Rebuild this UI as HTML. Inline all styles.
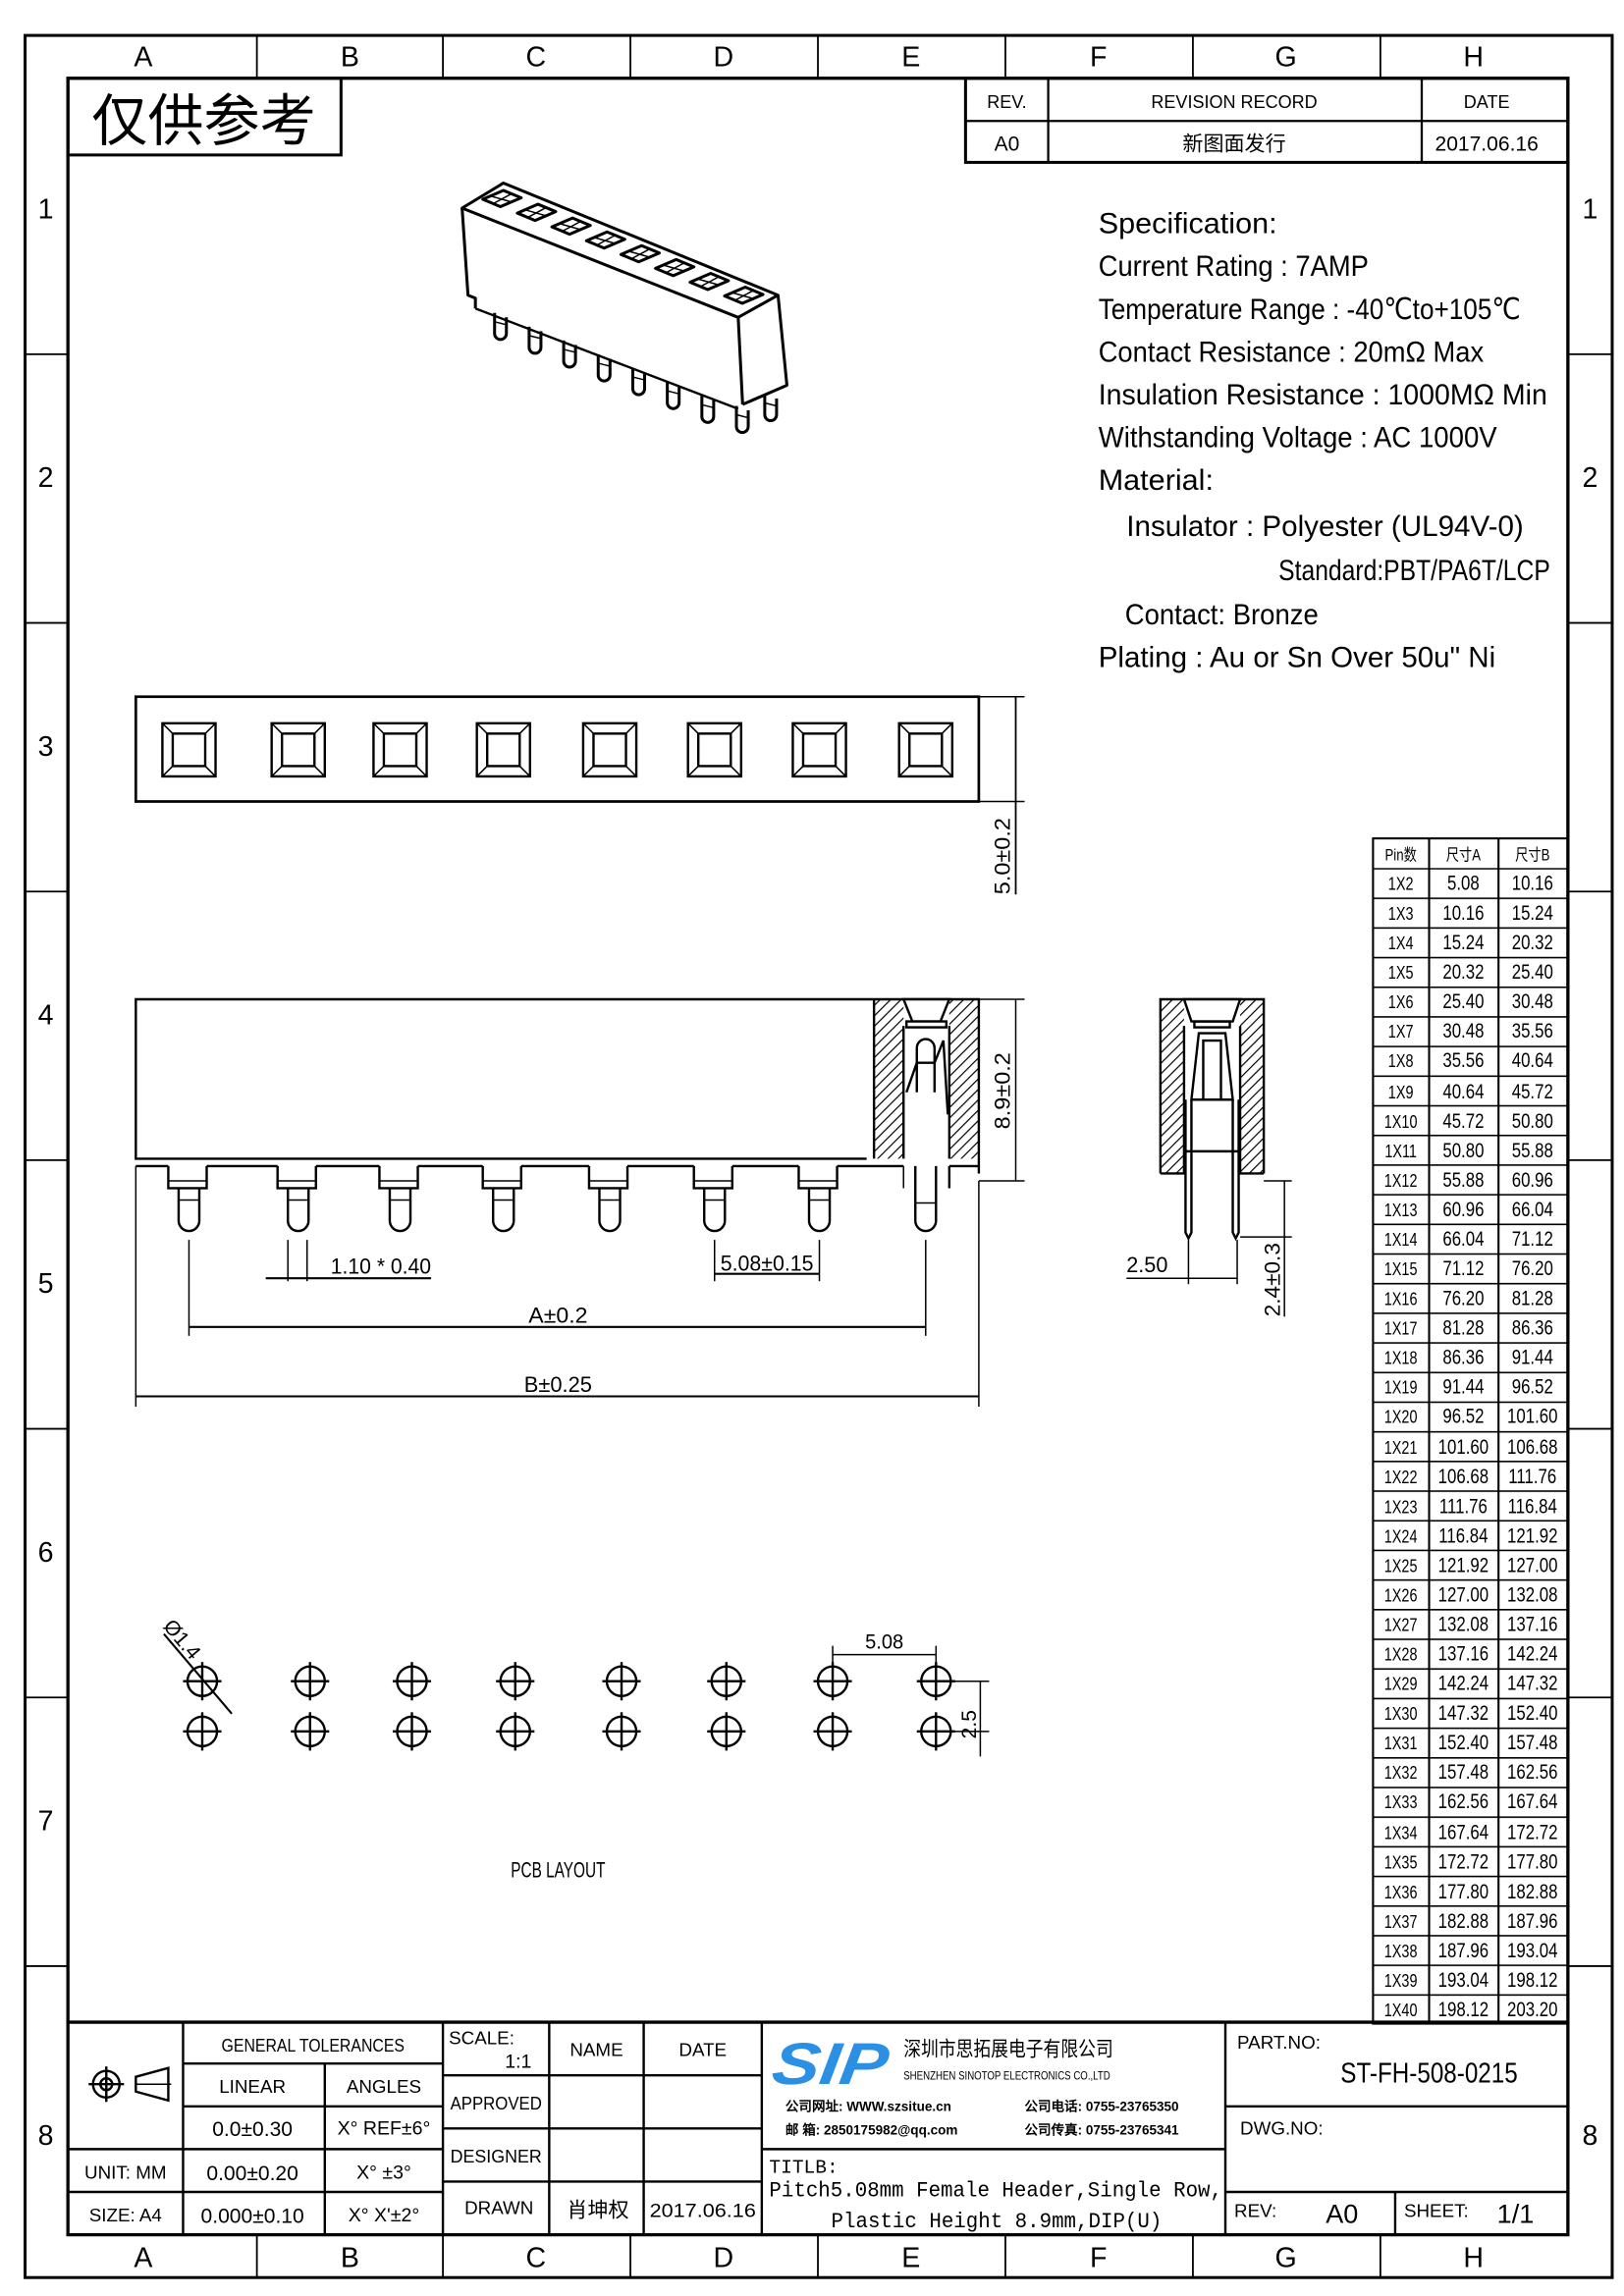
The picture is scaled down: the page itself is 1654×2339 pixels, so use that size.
<!DOCTYPE html>
<html><head><meta charset="utf-8"><style>
html,body{margin:0;padding:0;background:#fff}
svg{display:block}
text{font-family:"Liberation Sans Narrow","Liberation Sans","WenQuanYi Zen Hei",sans-serif;fill:#000}
.cj{font-family:"Liberation Sans","Noto Sans CJK SC","WenQuanYi Zen Hei",sans-serif}
</style></head><body>
<svg width="1654" height="2339" viewBox="0 0 1100 1555.5" preserveAspectRatio="none" xmlns="http://www.w3.org/2000/svg">
<defs>
<pattern id="h" patternUnits="userSpaceOnUse" width="5" height="5" patternTransform="rotate(45)"><line x1="0" y1="0" x2="0" y2="5" stroke="#000" stroke-width="1.6"/></pattern>
<pattern id="rows" patternUnits="userSpaceOnUse" x="930" y="588" width="140" height="20.08"><line x1="0" y1="0.5" x2="140" y2="0.5" stroke="#000" stroke-width="1.2"/></pattern>
</defs>
<g fill="none" stroke="#000">
<rect x="17" y="24" width="1075" height="1519" stroke-width="2"/>
<rect x="46" y="53" width="1016" height="1461" stroke-width="2.2"/>
<g stroke-width="1.2">
<line x1="174" y1="24" x2="174" y2="53"/><line x1="300" y1="24" x2="300" y2="53"/><line x1="427" y1="24" x2="427" y2="53"/><line x1="554" y1="24" x2="554" y2="53"/><line x1="681" y1="24" x2="681" y2="53"/><line x1="808" y1="24" x2="808" y2="53"/><line x1="935" y1="24" x2="935" y2="53"/>
<line x1="174" y1="1514" x2="174" y2="1543"/><line x1="300" y1="1514" x2="300" y2="1543"/><line x1="427" y1="1514" x2="427" y2="1543"/><line x1="554" y1="1514" x2="554" y2="1543"/><line x1="681" y1="1514" x2="681" y2="1543"/><line x1="808" y1="1514" x2="808" y2="1543"/><line x1="935" y1="1514" x2="935" y2="1543"/>
<line x1="17" y1="240" x2="46" y2="240"/><line x1="17" y1="422" x2="46" y2="422"/><line x1="17" y1="604" x2="46" y2="604"/><line x1="17" y1="786" x2="46" y2="786"/><line x1="17" y1="968" x2="46" y2="968"/><line x1="17" y1="1150" x2="46" y2="1150"/><line x1="17" y1="1332" x2="46" y2="1332"/>
<line x1="1062" y1="240" x2="1092" y2="240"/><line x1="1062" y1="422" x2="1092" y2="422"/><line x1="1062" y1="604" x2="1092" y2="604"/><line x1="1062" y1="786" x2="1092" y2="786"/><line x1="1062" y1="968" x2="1092" y2="968"/><line x1="1062" y1="1150" x2="1092" y2="1150"/><line x1="1062" y1="1332" x2="1092" y2="1332"/>
</g>
<rect x="46" y="53" width="185" height="52" stroke-width="2"/>
<rect x="654" y="53" width="408" height="57" stroke-width="2"/>
<line x1="654" y1="82" x2="1062" y2="82" stroke-width="1.5"/>
<line x1="710" y1="53" x2="710" y2="110" stroke-width="1.5"/><line x1="963" y1="53" x2="963" y2="110" stroke-width="1.5"/>
</g>
<g font-size="19" text-anchor="middle">
<text x="97" y="45">A</text><text x="237" y="45">B</text><text x="363" y="45">C</text><text x="490" y="45">D</text><text x="617" y="45">E</text><text x="744" y="45">F</text><text x="871" y="45">G</text><text x="998" y="45">H</text>
<text x="97" y="1536">A</text><text x="237" y="1536">B</text><text x="363" y="1536">C</text><text x="490" y="1536">D</text><text x="617" y="1536">E</text><text x="744" y="1536">F</text><text x="871" y="1536">G</text><text x="998" y="1536">H</text>
<text x="31" y="148">1</text><text x="31" y="330">2</text><text x="31" y="512">3</text><text x="31" y="694">4</text><text x="31" y="876">5</text><text x="31" y="1058">6</text><text x="31" y="1240">7</text><text x="31" y="1453">8</text>
<text x="1077" y="148">1</text><text x="1077" y="330">2</text><text x="1077" y="1453">8</text>
</g>
<text x="138" y="95" font-size="38" text-anchor="middle" class="cj">仅供参考</text>
<g font-size="12" text-anchor="middle">
<text x="682" y="73">REV.</text><text x="836" y="73">REVISION RECORD</text><text x="1007" y="73">DATE</text>
<text x="682" y="102" font-size="14">A0</text><text x="836" y="102" class="cj" font-size="14">新图面发行</text><text x="1007" y="102" font-size="14">2017.06.16</text>
</g>
<g font-size="20">
<text x="744" y="158" textLength="121" lengthAdjust="spacingAndGlyphs">Specification:</text>
<text x="744" y="187" textLength="183" lengthAdjust="spacingAndGlyphs">Current Rating : 7AMP</text>
<text x="744" y="216" textLength="286" lengthAdjust="spacingAndGlyphs">Temperature Range : -40℃to+105℃</text>
<text x="744" y="245" textLength="261" lengthAdjust="spacingAndGlyphs">Contact Resistance : 20mΩ Max</text>
<text x="744" y="274" textLength="304" lengthAdjust="spacingAndGlyphs">Insulation Resistance : 1000MΩ Min</text>
<text x="744" y="303" textLength="270" lengthAdjust="spacingAndGlyphs">Withstanding Voltage : AC 1000V</text>
<text x="744" y="332" textLength="78" lengthAdjust="spacingAndGlyphs">Material:</text>
<text x="763" y="363" textLength="269" lengthAdjust="spacingAndGlyphs">Insulator : Polyester (UL94V-0)</text>
<text x="866" y="393" textLength="184" lengthAdjust="spacingAndGlyphs">Standard:PBT/PA6T/LCP</text>
<text x="762" y="423" textLength="131" lengthAdjust="spacingAndGlyphs">Contact: Bronze</text>
<text x="744" y="452" textLength="269" lengthAdjust="spacingAndGlyphs">Plating : Au or Sn Over 50u" Ni</text>
</g>
<g fill="none" stroke="#000" stroke-width="2" stroke-linejoin="round">
<polygon points="313,141 341,124 527,200 500,215" fill="#fff"/>
<polyline points="313,141 317,200 322,202 322,209"/>
<line x1="500" y1="215" x2="503" y2="274"/>
<polyline points="527,200 533,261 503,274"/>
<polyline points="322,209 500,277" stroke-width="1.6"/>
<g id="slot">
<polygon points="327,135 341,129 353,134 339,140" stroke-width="2"/>
<line x1="333" y1="133" x2="347" y2="137" stroke-width="1"/><line x1="347" y1="131" x2="334" y2="138" stroke-width="1"/>
</g>
<use href="#slot" x="23.4" y="9.36"/><use href="#slot" x="46.8" y="18.7"/><use href="#slot" x="70.2" y="28.1"/><use href="#slot" x="93.6" y="37.4"/><use href="#slot" x="117" y="46.8"/><use href="#slot" x="140.4" y="56.2"/><use href="#slot" x="163.8" y="65.5"/>
<g id="pin" stroke-width="2">
<path d="M335,212 v14 a4,4 0 0 0 8,0 v-11"/><line x1="335" y1="218" x2="343" y2="220" stroke-width="1"/>
</g>
<use href="#pin" x="23.4" y="9.36"/><use href="#pin" x="46.8" y="18.7"/><use href="#pin" x="70.2" y="28.1"/><use href="#pin" x="93.6" y="37.4"/><use href="#pin" x="117" y="46.8"/><use href="#pin" x="140.4" y="56.2"/><use href="#pin" x="163.8" y="63"/><use href="#pin" x="183" y="55"/>
</g>
<g fill="none" stroke="#000">
<rect x="92" y="472" width="571" height="71" stroke-width="1.8"/>
<g id="sq" stroke-width="1.6"><rect x="110" y="490" width="36" height="36"/><rect x="117" y="497" width="22" height="22"/><path d="M110,490 L117,497 M146,490 L139,497 M110,526 L117,519 M146,526 L139,519" stroke-width="1"/></g>
<use href="#sq" x="74"/><use href="#sq" x="143"/><use href="#sq" x="213"/><use href="#sq" x="285"/><use href="#sq" x="356"/><use href="#sq" x="427"/><use href="#sq" x="499"/>
<line x1="663" y1="472" x2="694" y2="472" stroke-width="1"/><line x1="663" y1="543" x2="694" y2="543" stroke-width="1"/>
<line x1="688" y1="472" x2="688" y2="606" stroke-width="1.2"/>
</g>
<text transform="translate(684,606) rotate(-90)" font-size="15" textLength="52" lengthAdjust="spacingAndGlyphs">5.0±0.2</text>
<g fill="none" stroke="#000" stroke-width="1.6">
<polyline points="587,785 92,785 92,677 663,677 663,795"/>
<rect x="592" y="677" width="20" height="108" fill="url(#h)" stroke="none"/>
<rect x="643" y="677" width="20" height="108" fill="url(#h)" stroke="none"/>
<line x1="592" y1="677" x2="592" y2="785"/><line x1="612" y1="695" x2="612" y2="785"/><line x1="643" y1="695" x2="643" y2="785"/>
<polygon points="612,677 643,677 637,692 618,692" fill="#fff"/>
<rect x="614" y="692" width="27" height="4" fill="#fff"/>
<path d="M621,740 v-30 a6,6 0 0 1 12,0 v30"/><path d="M621,720 h12"/>
<path d="M633,720 l6,-15 l3,50 M614,740 l7,-20"/>
<g id="sp">
<polyline points="114,790 114,805 140,805 140,790" fill="#fff"/>
<line x1="114" y1="800" x2="140" y2="800" stroke-width="1"/>
<path d="M121,805 v22 a7,7 0 0 0 14,0 v-22"/><line x1="121" y1="813" x2="135" y2="813" stroke-width="1"/>
</g>
<use href="#sp" x="74"/><use href="#sp" x="143"/><use href="#sp" x="213"/><use href="#sp" x="285"/><use href="#sp" x="356"/><use href="#sp" x="427"/>
<path d="M620,790 v37 a7,7 0 0 0 14,0 v-37"/><line x1="620" y1="815" x2="634" y2="815" stroke-width="1"/>
<line x1="612" y1="790" x2="612" y2="805" stroke-width="1"/><line x1="643" y1="790" x2="643" y2="805"/>
<line x1="92" y1="790" x2="114" y2="790"/><line x1="140" y1="790" x2="188" y2="790"/><line x1="214" y1="790" x2="257" y2="790"/><line x1="283" y1="790" x2="327" y2="790"/><line x1="353" y1="790" x2="399" y2="790"/><line x1="425" y1="790" x2="470" y2="790"/><line x1="496" y1="790" x2="541" y2="790"/><line x1="567" y1="790" x2="612" y2="790"/><line x1="643" y1="790" x2="663" y2="790"/>
</g>
<g fill="none" stroke="#000" stroke-width="1">
<line x1="663" y1="677" x2="694" y2="677"/><line x1="663" y1="800" x2="694" y2="800"/><line x1="688" y1="677" x2="688" y2="800"/>
<line x1="92" y1="790" x2="92" y2="953"/><line x1="663" y1="800" x2="663" y2="953"/>
<line x1="128" y1="840" x2="128" y2="905"/><line x1="627" y1="840" x2="627" y2="905"/>
<line x1="92" y1="946" x2="663" y2="946" stroke-width="1.4"/>
<line x1="128" y1="899" x2="627" y2="899" stroke-width="1.4"/>
<line x1="195" y1="840" x2="195" y2="868"/><line x1="208" y1="840" x2="208" y2="868"/>
<line x1="180" y1="866" x2="292" y2="866" stroke-width="1.4"/>
<line x1="484" y1="840" x2="484" y2="868"/><line x1="555" y1="840" x2="555" y2="868"/>
<line x1="484" y1="863" x2="555" y2="863" stroke-width="1.4"/>
</g>
<g font-size="15">
<text x="224" y="863" textLength="68" lengthAdjust="spacingAndGlyphs">1.10 * 0.40</text>
<text x="488" y="861" textLength="63" lengthAdjust="spacingAndGlyphs">5.08±0.15</text>
<text x="358" y="896" textLength="40" lengthAdjust="spacingAndGlyphs">A±0.2</text>
<text x="355" y="943" textLength="46" lengthAdjust="spacingAndGlyphs">B±0.25</text>
</g>
<text transform="translate(684,765) rotate(-90)" font-size="15" textLength="52" lengthAdjust="spacingAndGlyphs">8.9±0.2</text>
<g fill="none" stroke="#000" stroke-width="1.6">
<rect x="786" y="677" width="16" height="118" fill="url(#h)" stroke="none"/>
<rect x="840" y="677" width="16" height="118" fill="url(#h)" stroke="none"/>
<polyline points="786,795 786,677 856,677 856,795"/>
<polyline points="802,695 802,795 786,795"/><polyline points="840,695 840,795 856,795"/>
<polygon points="802,677 840,677 835,692 807,692" fill="#fff"/>
<rect x="809" y="692" width="24" height="4"/>
<path d="M807,745 l5,-45 h18 l5,45 z"/><path d="M815,745 v-40 h12 v40"/>
<line x1="802" y1="780" x2="840" y2="780"/>
<path d="M803,745 v90 l2,4 l2,-4 v-90 M835,745 v90 l2,4 l2,-4 v-90"/>
</g>
<g fill="none" stroke="#000" stroke-width="1">
<line x1="805" y1="840" x2="805" y2="870"/><line x1="838" y1="840" x2="838" y2="870"/>
<line x1="763" y1="866" x2="838" y2="866"/>
<line x1="856" y1="800" x2="875" y2="800"/><line x1="840" y1="838" x2="875" y2="838"/>
<line x1="870" y1="800" x2="870" y2="892"/>
</g>
<text x="763" y="862" font-size="15" textLength="28" lengthAdjust="spacingAndGlyphs">2.50</text>
<text transform="translate(867,892) rotate(-90)" font-size="15" textLength="50" lengthAdjust="spacingAndGlyphs">2.4±0.3</text>
<g fill="none" stroke="#000" stroke-width="1.6">
<g id="hole"><circle cx="137" cy="1139" r="10"/><line x1="124" y1="1139" x2="150" y2="1139"/><line x1="137" y1="1126" x2="137" y2="1152"/></g>
<use href="#hole" y="34"/>
<use href="#hole" x="73"/><use href="#hole" x="73" y="34"/>
<use href="#hole" x="142"/><use href="#hole" x="142" y="34"/>
<use href="#hole" x="212"/><use href="#hole" x="212" y="34"/>
<use href="#hole" x="284"/><use href="#hole" x="284" y="34"/>
<use href="#hole" x="355"/><use href="#hole" x="355" y="34"/>
<use href="#hole" x="427"/><use href="#hole" x="427" y="34"/>
<use href="#hole" x="497"/><use href="#hole" x="497" y="34"/>
<line x1="111" y1="1107" x2="157" y2="1161" stroke-width="1.4"/>
<g stroke-width="1"><line x1="564" y1="1115" x2="564" y2="1135"/><line x1="634" y1="1115" x2="634" y2="1135"/><line x1="564" y1="1121" x2="634" y2="1121"/>
<line x1="644" y1="1139" x2="670" y2="1139"/><line x1="644" y1="1173" x2="670" y2="1173"/><line x1="664" y1="1139" x2="664" y2="1190"/></g>
</g>
<text transform="translate(110,1102) rotate(50)" font-size="14">Ø1.4</text>
<text x="586" y="1117" font-size="14" textLength="26" lengthAdjust="spacingAndGlyphs">5.08</text>
<text transform="translate(661,1178) rotate(-90)" font-size="14">2.5</text>
<text x="346" y="1272" font-size="15" textLength="64" lengthAdjust="spacingAndGlyphs">PCB LAYOUT</text>
<rect x="930" y="588" width="132" height="783" fill="url(#rows)"/>
<g fill="none" stroke="#000" stroke-width="1.4">
<rect x="930" y="568" width="132" height="803"/>
<line x1="968" y1="568" x2="968" y2="1371"/><line x1="1015" y1="568" x2="1015" y2="1371"/>
</g>
<g text-anchor="middle" transform="scale(0.8,1)">
<text x="1186" y="583" class="cj" font-size="11">Pin数</text><text x="1239" y="583" class="cj" font-size="11">尺寸A</text><text x="1297.5" y="583" class="cj" font-size="11">尺寸B</text>
</g>
<g font-size="14" text-anchor="middle" transform="scale(0.8,1)">
<g transform="translate(0,603)"><text x="1186" font-size="12">1X2</text><text x="1239">5.08</text><text x="1297.5">10.16</text></g>
<g transform="translate(0,623)"><text x="1186" font-size="12">1X3</text><text x="1239">10.16</text><text x="1297.5">15.24</text></g>
<g transform="translate(0,643)"><text x="1186" font-size="12">1X4</text><text x="1239">15.24</text><text x="1297.5">20.32</text></g>
<g transform="translate(0,663)"><text x="1186" font-size="12">1X5</text><text x="1239">20.32</text><text x="1297.5">25.40</text></g>
<g transform="translate(0,683)"><text x="1186" font-size="12">1X6</text><text x="1239">25.40</text><text x="1297.5">30.48</text></g>
<g transform="translate(0,703)"><text x="1186" font-size="12">1X7</text><text x="1239">30.48</text><text x="1297.5">35.56</text></g>
<g transform="translate(0,723)"><text x="1186" font-size="12">1X8</text><text x="1239">35.56</text><text x="1297.5">40.64</text></g>
<g transform="translate(0,744)"><text x="1186" font-size="12">1X9</text><text x="1239">40.64</text><text x="1297.5">45.72</text></g>
<g transform="translate(0,764)"><text x="1186" font-size="12">1X10</text><text x="1239">45.72</text><text x="1297.5">50.80</text></g>
<g transform="translate(0,784)"><text x="1186" font-size="12">1X11</text><text x="1239">50.80</text><text x="1297.5">55.88</text></g>
<g transform="translate(0,804)"><text x="1186" font-size="12">1X12</text><text x="1239">55.88</text><text x="1297.5">60.96</text></g>
<g transform="translate(0,824)"><text x="1186" font-size="12">1X13</text><text x="1239">60.96</text><text x="1297.5">66.04</text></g>
<g transform="translate(0,844)"><text x="1186" font-size="12">1X14</text><text x="1239">66.04</text><text x="1297.5">71.12</text></g>
<g transform="translate(0,864)"><text x="1186" font-size="12">1X15</text><text x="1239">71.12</text><text x="1297.5">76.20</text></g>
<g transform="translate(0,884)"><text x="1186" font-size="12">1X16</text><text x="1239">76.20</text><text x="1297.5">81.28</text></g>
<g transform="translate(0,904)"><text x="1186" font-size="12">1X17</text><text x="1239">81.28</text><text x="1297.5">86.36</text></g>
<g transform="translate(0,924)"><text x="1186" font-size="12">1X18</text><text x="1239">86.36</text><text x="1297.5">91.44</text></g>
<g transform="translate(0,944)"><text x="1186" font-size="12">1X19</text><text x="1239">91.44</text><text x="1297.5">96.52</text></g>
<g transform="translate(0,964)"><text x="1186" font-size="12">1X20</text><text x="1239">96.52</text><text x="1297.5">101.60</text></g>
<g transform="translate(0,985)"><text x="1186" font-size="12">1X21</text><text x="1239">101.60</text><text x="1297.5">106.68</text></g>
<g transform="translate(0,1005)"><text x="1186" font-size="12">1X22</text><text x="1239">106.68</text><text x="1297.5">111.76</text></g>
<g transform="translate(0,1025)"><text x="1186" font-size="12">1X23</text><text x="1239">111.76</text><text x="1297.5">116.84</text></g>
<g transform="translate(0,1045)"><text x="1186" font-size="12">1X24</text><text x="1239">116.84</text><text x="1297.5">121.92</text></g>
<g transform="translate(0,1065)"><text x="1186" font-size="12">1X25</text><text x="1239">121.92</text><text x="1297.5">127.00</text></g>
<g transform="translate(0,1085)"><text x="1186" font-size="12">1X26</text><text x="1239">127.00</text><text x="1297.5">132.08</text></g>
<g transform="translate(0,1105)"><text x="1186" font-size="12">1X27</text><text x="1239">132.08</text><text x="1297.5">137.16</text></g>
<g transform="translate(0,1125)"><text x="1186" font-size="12">1X28</text><text x="1239">137.16</text><text x="1297.5">142.24</text></g>
<g transform="translate(0,1145)"><text x="1186" font-size="12">1X29</text><text x="1239">142.24</text><text x="1297.5">147.32</text></g>
<g transform="translate(0,1165)"><text x="1186" font-size="12">1X30</text><text x="1239">147.32</text><text x="1297.5">152.40</text></g>
<g transform="translate(0,1185)"><text x="1186" font-size="12">1X31</text><text x="1239">152.40</text><text x="1297.5">157.48</text></g>
<g transform="translate(0,1205)"><text x="1186" font-size="12">1X32</text><text x="1239">157.48</text><text x="1297.5">162.56</text></g>
<g transform="translate(0,1225)"><text x="1186" font-size="12">1X33</text><text x="1239">162.56</text><text x="1297.5">167.64</text></g>
<g transform="translate(0,1246)"><text x="1186" font-size="12">1X34</text><text x="1239">167.64</text><text x="1297.5">172.72</text></g>
<g transform="translate(0,1266)"><text x="1186" font-size="12">1X35</text><text x="1239">172.72</text><text x="1297.5">177.80</text></g>
<g transform="translate(0,1286)"><text x="1186" font-size="12">1X36</text><text x="1239">177.80</text><text x="1297.5">182.88</text></g>
<g transform="translate(0,1306)"><text x="1186" font-size="12">1X37</text><text x="1239">182.88</text><text x="1297.5">187.96</text></g>
<g transform="translate(0,1326)"><text x="1186" font-size="12">1X38</text><text x="1239">187.96</text><text x="1297.5">193.04</text></g>
<g transform="translate(0,1346)"><text x="1186" font-size="12">1X39</text><text x="1239">193.04</text><text x="1297.5">198.12</text></g>
<g transform="translate(0,1366)"><text x="1186" font-size="12">1X40</text><text x="1239">198.12</text><text x="1297.5">203.20</text></g>
</g>
<g fill="none" stroke="#000" stroke-width="1.6">
<line x1="46" y1="1370" x2="1062" y2="1370" stroke-width="2.2"/>
<line x1="124" y1="1370" x2="124" y2="1514"/><line x1="220" y1="1398" x2="220" y2="1514"/>
<line x1="300" y1="1370" x2="300" y2="1514"/><line x1="372" y1="1370" x2="372" y2="1514"/><line x1="436" y1="1370" x2="436" y2="1514"/>
<line x1="516" y1="1370" x2="516" y2="1514"/><line x1="830" y1="1370" x2="830" y2="1514"/>
<line x1="124" y1="1398" x2="300" y2="1398"/><line x1="124" y1="1427" x2="300" y2="1427"/>
<line x1="46" y1="1456" x2="300" y2="1456"/><line x1="46" y1="1485" x2="300" y2="1485"/>
<line x1="300" y1="1406" x2="516" y2="1406"/><line x1="300" y1="1442" x2="516" y2="1442"/><line x1="300" y1="1478" x2="516" y2="1478"/>
<line x1="516" y1="1456" x2="830" y2="1456"/>
<line x1="830" y1="1427" x2="1062" y2="1427"/><line x1="830" y1="1485" x2="1062" y2="1485"/>
<line x1="945" y1="1485" x2="945" y2="1514"/>
<circle cx="72" cy="1412" r="9"/><circle cx="72" cy="1412" r="4"/><line x1="60" y1="1412" x2="84" y2="1412"/><line x1="72" y1="1400" x2="72" y2="1424"/>
<polygon points="92,1407 114,1401 114,1423 92,1417"/><line x1="92" y1="1412" x2="116" y2="1412" stroke-width="1"/>
</g>
<g font-size="12.5" text-anchor="middle">
<text x="212" y="1390" textLength="124" lengthAdjust="spacingAndGlyphs">GENERAL TOLERANCES</text>
<text x="171" y="1418">LINEAR</text><text x="260" y="1418">ANGLES</text>
<text x="171" y="1447" font-size="14">0.0±0.30</text><text x="260" y="1446" font-size="13">X° REF±6°</text>
<text x="85" y="1476">UNIT: MM</text><text x="171" y="1477" font-size="14">0.00±0.20</text><text x="260" y="1476" font-size="13">X° ±3°</text>
<text x="85" y="1505">SIZE: A4</text><text x="171" y="1506" font-size="14">0.000±0.10</text><text x="260" y="1505" font-size="13">X° X'±2°</text>
<text x="404" y="1393">NAME</text><text x="476" y="1393">DATE</text>
<text x="336" y="1429" textLength="62" lengthAdjust="spacingAndGlyphs">APPROVED</text><text x="336" y="1465" textLength="62" lengthAdjust="spacingAndGlyphs">DESIGNER</text><text x="338" y="1500">DRAWN</text>
<text x="405" y="1502" class="cj" font-size="14">肖坤权</text><text x="476" y="1502" font-size="13" textLength="72" lengthAdjust="spacingAndGlyphs">2017.06.16</text>
</g>
<text x="304" y="1385" font-size="12.5">SCALE:</text><text x="342" y="1401" font-size="13">1:1</text>
<text x="522" y="1412" font-size="40" font-weight="bold" font-style="italic" style="fill:#2b8fe3" transform="skewX(-8) translate(198,0)" textLength="78" lengthAdjust="spacingAndGlyphs">SIP</text>
<text x="612" y="1393" class="cj" font-size="14" textLength="142" lengthAdjust="spacingAndGlyphs">深圳市思拓展电子有限公司</text>
<text x="612" y="1409" font-size="8" textLength="140" lengthAdjust="spacingAndGlyphs">SHENZHEN SINOTOP ELECTRONICS CO.,LTD</text>
<g font-size="9" font-weight="bold" class="cj">
<text x="532" y="1430">公司网址: WWW.szsitue.cn</text><text x="694" y="1430">公司电话: 0755-23765350</text>
<text x="532" y="1446">邮    箱: 2850175982@qq.com</text><text x="694" y="1446">公司传真: 0755-23765341</text>
</g>
<text x="521" y="1472" font-size="13" style="font-family:'Liberation Mono'">TITLB:</text>
<text x="521" y="1488" font-size="14.5" textLength="307" lengthAdjust="spacingAndGlyphs" style="font-family:'Liberation Mono'">Pitch5.08mm Female Header,Single Row,</text>
<text x="563" y="1509" font-size="14.5" textLength="224" lengthAdjust="spacingAndGlyphs" style="font-family:'Liberation Mono'">Plastic Height 8.9mm,DIP(U)</text>
<text x="838" y="1388" font-size="12.5">PART.NO:</text>
<text x="908" y="1411" font-size="19" textLength="120" lengthAdjust="spacingAndGlyphs">ST-FH-508-0215</text>
<text x="840" y="1446" font-size="12.5">DWG.NO:</text>
<text x="836" y="1502" font-size="12.5">REV:</text><text x="898" y="1506" font-size="18">A0</text>
<text x="951" y="1502" font-size="12.5">SHEET:</text><text x="1014" y="1506" font-size="18">1/1</text>
</svg>
</body></html>
